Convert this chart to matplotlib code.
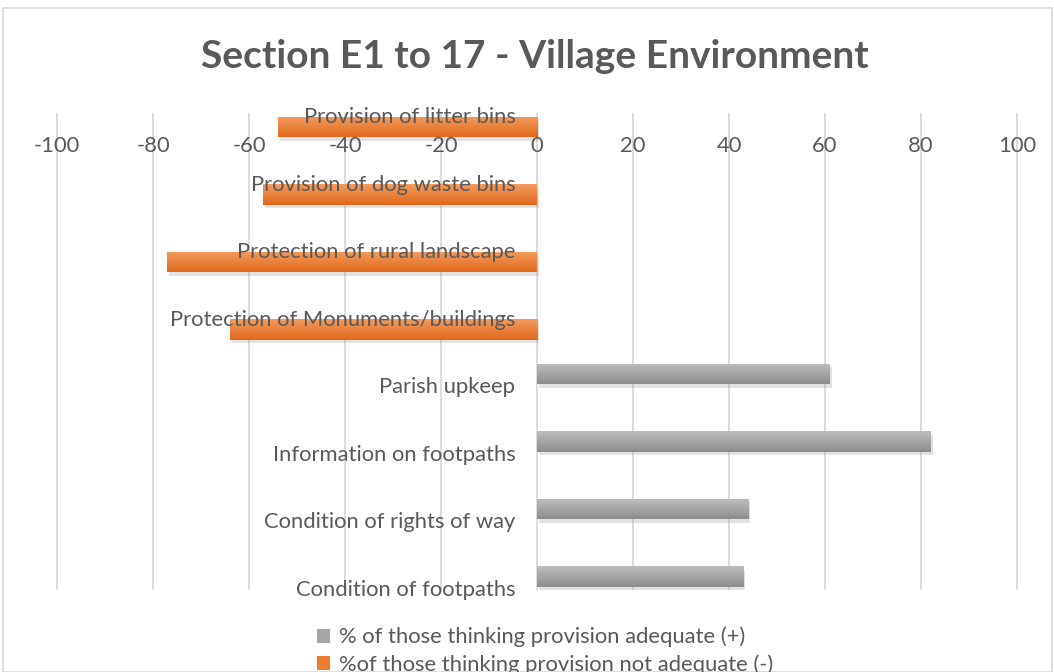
import numpy as np
import matplotlib.pyplot as plt
import matplotlib.patheffects as pe
from matplotlib.patches import Rectangle, Patch
from matplotlib.colors import to_rgb

plt.rcParams['font.family'] = ['Lato', 'DejaVu Sans']

categories = ["Provision of litter bins", "Provision of dog waste bins",
              "Protection of rural landscape", "Protection of Monuments/buildings",
              "Parish upkeep", "Information on footpaths",
              "Condition of rights of way", "Condition of footpaths"]
adequate = [0, 0, 0, 0, 61, 82, 44, 43]
not_adequate = [-54, -57, -77, -64, 0, 0, 0, 0]
xticks = [-100, -80, -60, -40, -20, 0, 20, 40, 60, 80, 100]
legend_labels = ["% of those thinking provision adequate (+)",
                 "%of those thinking provision not adequate (-)"]

txt = '#595959'
fs = 15.8
W, H = 1054, 672
fig = plt.figure(figsize=(W / 100, H / 100), dpi=100)

# chart border
fig.patches.append(Rectangle((3 / W, 0), (W - 5) / W, (H - 8) / H, transform=fig.transFigure,
                             fill=False, edgecolor='#D9D9D9', linewidth=1.2))

x0, x1 = -104, 104
ax = fig.add_axes([(537 + x0 * 4.8) / W, (H - 590) / H, (x1 - x0) * 4.8 / W, 477 / H])
ax.set_xlim(x0, x1)
ax.set_ylim(7.03, -0.037)

# gridlines under the bars
ax.vlines(xticks, 7.03, -0.037, color='#D9D9D9', linewidth=1.3, zorder=0)

y = np.arange(len(categories))
h = 0.31
shadow = [pe.SimplePatchShadow(offset=(1.5, -2.5), shadow_rgbFace='#A0A0A0', alpha=0.3), pe.Normal()]
b1 = ax.barh(y - 0.17, adequate, height=h, color='#A5A5A5', zorder=2, path_effects=shadow)
b2 = ax.barh(y + 0.17, not_adequate, height=h, color='#ED7D31', zorder=2, path_effects=shadow)


def shade(bars, top, bottom):
    c0, c1 = np.array(to_rgb(top)), np.array(to_rgb(bottom))
    t = np.linspace(0, 1, 32)[:, None]
    grad = (c0 * (1 - t) + c1 * t)[:, None, :]
    for p in bars:
        if p.get_width() == 0:
            continue
        bx, by, bw, bh = p.get_x(), p.get_y(), p.get_width(), p.get_height()
        im = ax.imshow(grad, extent=(bx, bx + bw, by + bh, by), aspect='auto',
                       origin='upper', zorder=2.2, interpolation='bilinear')
        im.set_clip_path(p)


shade(b1, '#BDBDBD', '#8E8E8E')
shade(b2, '#F39B5E', '#E2691C')

ax.set_xlim(x0, x1)
ax.set_ylim(7.03, -0.037)

ax.set_xticks(xticks)
ax.set_xticklabels([str(v) for v in xticks])
ax.spines['bottom'].set_position(('data', 0.27))
ax.tick_params(axis='x', length=0, pad=2, labelsize=fs, labelcolor=txt)

ax.set_yticks(y)
ax.set_yticklabels(categories)
ax.spines['left'].set_position(('data', 0))
ax.tick_params(axis='y', length=0, pad=15.5, labelsize=fs, labelcolor=txt)

# labels sit on top of the bars, as in the original
ax.xaxis.set_zorder(3)
ax.yaxis.set_zorder(3)

for s in ax.spines.values():
    s.set_visible(False)

fig.text(535 / W, 1 - 57 / H, "Section E1 to 17 - Village Environment", ha='center', va='center',
         fontsize=28, fontweight='bold', color=txt)

handles = [Patch(facecolor='#A5A5A5'), Patch(facecolor='#ED7D31')]
fig.legend(handles, legend_labels, loc='upper left', bbox_to_anchor=(308 / W, 1 - 618 / H),
           frameon=False, fontsize=fs, labelcolor=txt, handlelength=0.6, handleheight=0.6,
           handletextpad=0.4, labelspacing=0.3, borderaxespad=0)

fig.savefig('out.png', dpi=100)
